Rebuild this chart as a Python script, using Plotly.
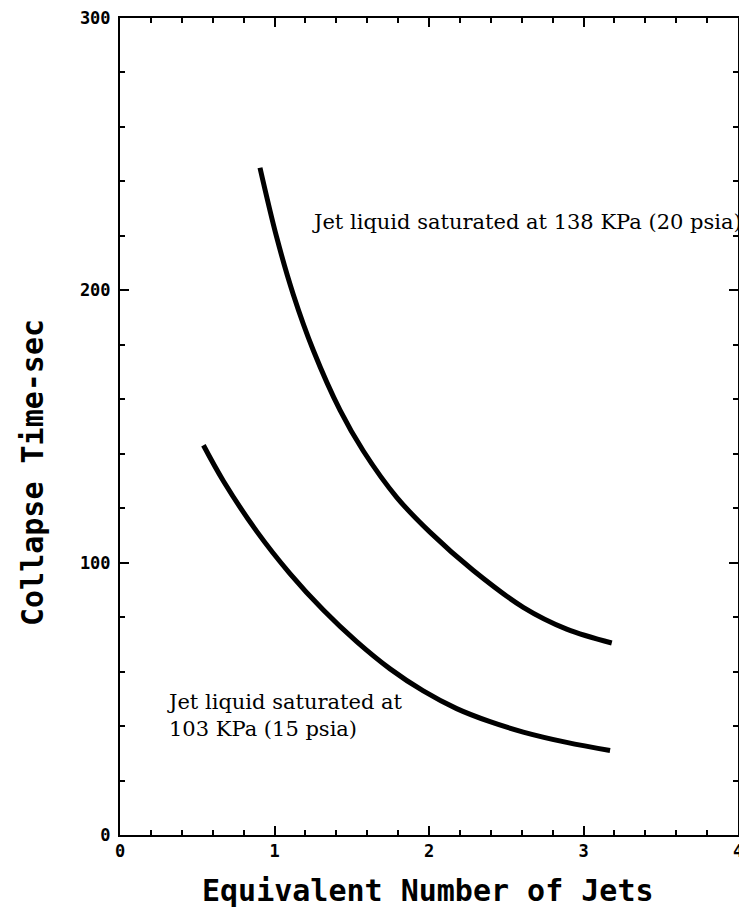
import plotly.graph_objects as go

# Upper curve: jet liquid saturated at 138 KPa (20 psia)
x_138 = [0.906, 1.014, 1.122, 1.251, 1.424, 1.575, 1.791, 2.006, 2.287, 2.610, 2.891, 3.183]
y_138 = [245.0, 219.5, 198.4, 178.0, 156.0, 141.0, 124.0, 111.2, 97.1, 83.6, 75.6, 70.5]

# Lower curve: jet liquid saturated at 103 KPa (15 psia)
x_103 = [0.540, 0.669, 0.885, 1.100, 1.316, 1.532, 1.748, 1.963, 2.179, 2.395, 2.610, 2.891, 3.172]
y_103 = [143.1, 130.0, 111.5, 96.0, 82.6, 71.0, 61.0, 52.9, 46.4, 41.6, 37.8, 34.0, 31.0]

x_ticks = [0, 1, 2, 3, 4]
y_ticks = [0, 100, 200, 300]

label_138 = "Jet liquid saturated at 138 KPa (20 psia)"
label_103 = "Jet liquid saturated at<br>103 KPa (15 psia)"
x_title = "Equivalent Number of Jets"
y_title = "Collapse Time-sec"

fig = go.Figure()
for xs, ys in [(x_138, y_138), (x_103, y_103)]:
    fig.add_trace(go.Scatter(x=xs, y=ys, mode="lines",
                             line=dict(color="black", width=5, shape="spline", smoothing=1.0),
                             showlegend=False, hoverinfo="skip"))

tickfont = dict(family="DejaVu Sans Mono", size=17, color="black")
titlefont = dict(family="DejaVu Sans Mono", size=30, color="black")

fig.update_xaxes(range=[0, 4], tickvals=x_ticks, ticktext=[f"<b>{v}</b>" for v in x_ticks],
                 ticks="inside", ticklen=9, tickwidth=2, tickcolor="black",
                 minor=dict(dtick=0.2, ticks="inside", ticklen=5, tickwidth=2, tickcolor="black"),
                 showline=True, linecolor="black", linewidth=2, mirror="ticks",
                 showgrid=False, zeroline=False, tickfont=tickfont, ticklabeloverflow="allow",
                 automargin=False)
fig.update_yaxes(range=[0, 300], tickvals=y_ticks, ticktext=[f"<b>{v}</b>" for v in y_ticks],
                 ticks="inside", ticklen=9, tickwidth=2, tickcolor="black",
                 minor=dict(dtick=20, ticks="inside", ticklen=5, tickwidth=2, tickcolor="black"),
                 showline=True, linecolor="black", linewidth=2, mirror="ticks",
                 showgrid=False, zeroline=False, tickfont=tickfont, ticklabeloverflow="allow",
                 ticklabelstandoff=4, automargin=False)

fig.add_annotation(text=f"<b>{x_title}</b>", x=(428 - 120) / 618, y=-(890 - 835) / 817,
                   xref="paper", yref="paper", showarrow=False,
                   xanchor="center", yanchor="middle", font=titlefont)
fig.add_annotation(text=f"<b>{y_title}</b>", x=-88 / 618, y=(835 - 473) / 817,
                   xref="paper", yref="paper", showarrow=False, textangle=-90,
                   xanchor="center", yanchor="middle", font=titlefont)

fig.add_annotation(text=label_138, x=(310 - 120) / 618, y=(835 - 222) / 817,
                   xref="paper", yref="paper", showarrow=False,
                   xanchor="left", yanchor="middle",
                   font=dict(family="DejaVu Serif", size=21, color="black"))
fig.add_annotation(text=label_103, x=(165 - 120) / 618, y=(835 - 715) / 817,
                   xref="paper", yref="paper", showarrow=False, align="left",
                   xanchor="left", yanchor="middle",
                   font=dict(family="DejaVu Serif", size=21, color="black"))

fig.update_layout(width=739, height=916, margin=dict(l=120, r=1, t=18, b=81),
                  paper_bgcolor="white", plot_bgcolor="white")

fig.write_html("out.html")
